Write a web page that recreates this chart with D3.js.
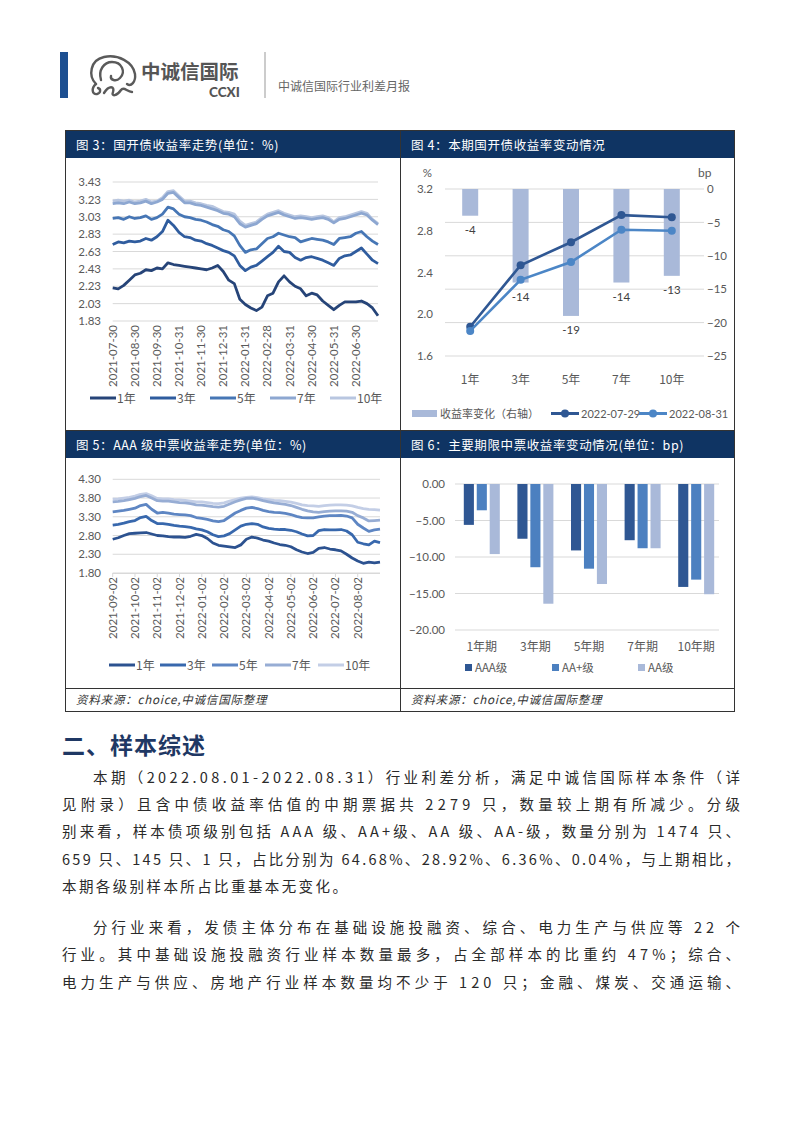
<!DOCTYPE html>
<html><head><meta charset="utf-8">
<script src="https://cdn.jsdelivr.net/npm/d3@7"></script>
<style>
body{margin:0;background:#fff;}
svg{display:block;font-family:Lato,"Noto Sans CJK SC",sans-serif;}
</style></head><body>
<svg id="page" width="802" height="1133"></svg>
<script>
// ---------------- DATA ----------------
const tenors = ["1年","3年","5年","7年","10年"];
// Fig 3: CDB bond yields (%), roughly weekly samples 2021-07-30 .. 2022-08-31
const cdbTickLabels = ["2021-07-30","2021-08-30","2021-09-30","2021-10-31","2021-11-30","2021-12-31","2022-01-31","2022-02-28","2022-03-31","2022-04-30","2022-05-31","2022-06-30"];
const cdbYTicks = [1.83,2.03,2.23,2.43,2.63,2.83,3.03,3.23,3.43];
const cdb1y = [2.21,2.20,2.24,2.30,2.36,2.38,2.42,2.41,2.44,2.43,2.50,2.48,2.47,2.46,2.45,2.44,2.43,2.42,2.44,2.47,2.40,2.30,2.26,2.08,2.02,1.98,1.95,1.99,2.12,2.15,2.28,2.35,2.28,2.23,2.20,2.12,2.15,2.13,2.06,2.01,1.96,2.01,2.05,2.05,2.05,2.06,2.03,1.98,1.89];
const cdb3y = [2.71,2.74,2.73,2.75,2.74,2.75,2.78,2.76,2.80,2.86,2.99,2.93,2.85,2.80,2.79,2.76,2.75,2.72,2.70,2.67,2.64,2.62,2.58,2.47,2.41,2.45,2.47,2.52,2.57,2.62,2.69,2.63,2.62,2.56,2.53,2.56,2.57,2.55,2.53,2.50,2.47,2.55,2.58,2.59,2.63,2.67,2.60,2.53,2.49];
const cdb5y = [3.01,3.02,3.00,3.03,3.01,3.02,3.04,3.00,3.02,3.06,3.14,3.12,3.06,3.03,3.02,3.00,2.99,2.97,2.94,2.92,2.88,2.86,2.81,2.70,2.62,2.65,2.66,2.72,2.78,2.80,2.84,2.82,2.80,2.79,2.74,2.76,2.78,2.77,2.76,2.74,2.71,2.78,2.79,2.80,2.84,2.86,2.80,2.75,2.71];
const cdb7y = [3.18,3.19,3.18,3.20,3.18,3.19,3.21,3.18,3.20,3.23,3.30,3.31,3.25,3.19,3.19,3.17,3.16,3.14,3.12,3.10,3.07,3.06,3.03,2.95,2.91,2.93,2.95,3.00,3.04,3.06,3.08,3.05,3.03,3.01,3.02,3.01,3.00,3.01,3.02,3.00,2.96,3.00,3.01,3.03,3.05,3.07,3.05,2.99,2.94];
const cdb10y = [3.21,3.22,3.21,3.22,3.20,3.21,3.23,3.20,3.21,3.25,3.32,3.33,3.27,3.21,3.21,3.19,3.18,3.16,3.15,3.12,3.09,3.08,3.06,2.98,2.93,2.95,2.97,3.02,3.06,3.08,3.10,3.07,3.05,3.03,3.04,3.03,3.02,3.03,3.04,3.02,2.97,3.02,3.03,3.05,3.07,3.09,3.07,3.00,2.95];

// Fig 4: yields on two dates (%) and change (bp)
const cdbChange = [-4,-14,-19,-14,-13];
const cdbYield0729 = [1.88,2.47,2.69,2.95,2.93];
const cdbYield0831 = [1.84,2.33,2.50,2.81,2.80];
const fig4LeftTicks = [1.6,2.0,2.4,2.8,3.2];
const fig4RightTicks = [-25,-20,-15,-10,-5,0];

// Fig 5: AAA MTN yields (%)
const mtnTickLabels = ["2021-09-02","2021-10-02","2021-11-02","2021-12-02","2022-01-02","2022-02-02","2022-03-02","2022-04-02","2022-05-02","2022-06-02","2022-07-02","2022-08-02"];
const mtnYTicks = [1.80,2.30,2.80,3.30,3.80,4.30];
const mtn1y = [2.70,2.74,2.80,2.85,2.86,2.87,2.88,2.84,2.80,2.79,2.77,2.76,2.76,2.75,2.78,2.83,2.80,2.72,2.60,2.54,2.52,2.50,2.48,2.55,2.70,2.76,2.73,2.68,2.65,2.60,2.56,2.54,2.50,2.42,2.36,2.32,2.35,2.46,2.48,2.44,2.42,2.39,2.30,2.20,2.12,2.06,2.09,2.07,2.09];
const mtn3y = [3.08,3.10,3.13,3.17,3.20,3.28,3.31,3.20,3.12,3.12,3.10,3.07,3.05,3.04,3.02,2.98,2.95,2.90,2.82,2.77,2.79,2.85,2.95,3.05,3.10,3.12,3.10,3.03,2.99,2.97,2.96,2.96,2.94,2.90,2.84,2.79,2.80,2.93,2.96,2.95,2.95,2.96,2.92,2.82,2.62,2.58,2.55,2.65,2.61];
const mtn5y = [3.43,3.45,3.47,3.50,3.53,3.60,3.63,3.50,3.40,3.42,3.40,3.37,3.36,3.35,3.33,3.28,3.26,3.23,3.19,3.17,3.20,3.30,3.40,3.47,3.53,3.55,3.52,3.47,3.44,3.42,3.41,3.39,3.36,3.31,3.28,3.27,3.27,3.30,3.32,3.33,3.33,3.34,3.32,3.27,3.10,3.00,2.91,2.95,2.97];
const mtn7y = [3.70,3.71,3.73,3.76,3.79,3.84,3.87,3.80,3.73,3.72,3.72,3.70,3.68,3.67,3.65,3.62,3.61,3.59,3.57,3.56,3.58,3.64,3.70,3.75,3.79,3.80,3.77,3.73,3.70,3.67,3.65,3.63,3.60,3.55,3.50,3.46,3.43,3.42,3.44,3.45,3.46,3.46,3.45,3.42,3.33,3.27,3.19,3.20,3.21];
const mtn10y = [3.77,3.78,3.80,3.82,3.85,3.90,3.92,3.86,3.79,3.78,3.78,3.76,3.75,3.74,3.72,3.70,3.70,3.68,3.66,3.65,3.67,3.72,3.76,3.80,3.82,3.83,3.81,3.78,3.76,3.74,3.73,3.71,3.69,3.66,3.62,3.60,3.59,3.58,3.60,3.61,3.62,3.62,3.61,3.59,3.55,3.52,3.50,3.49,3.48];

// Fig 6: MTN yield change by term (bp)
const mtnTerms = ["1年期","3年期","5年期","7年期","10年期"];
const mtnGrades = ["AAA级","AA+级","AA级"];
const mtnAAA = [-5.6,-7.5,-9.1,-7.7,-14.1];
const mtnAAplus = [-3.6,-11.4,-11.6,-8.8,-13.1];
const mtnAA = [-9.6,-16.4,-13.7,-8.8,-15.1];
const fig6Ticks = [-20,-15,-10,-5,0];

// text
const bodyLines = [
"本期（2022.08.01-2022.08.31）行业利差分析，满足中诚信国际样本条件（详",
"见附录）且含中债收益率估值的中期票据共 2279 只，数量较上期有所减少。分级",
"别来看，样本债项级别包括 AAA 级、AA+级、AA 级、AA-级，数量分别为 1474 只、",
"659 只、145 只、1 只，占比分别为 64.68%、28.92%、6.36%、0.04%，与上期相比，",
"本期各级别样本所占比重基本无变化。",
"分行业来看，发债主体分布在基础设施投融资、综合、电力生产与供应等 22 个",
"行业。其中基础设施投融资行业样本数量最多，占全部样本的比重约 47%；综合、",
"电力生产与供应、房地产行业样本数量均不少于 120 只；金融、煤炭、交通运输、"];

// ---------------- DRAW ----------------
const svg = d3.select("#page");
const NAVY = "#0f3463";
const GRID = "#d9d9d9";
const TICK = "#595959";
const CJK = '"Noto Sans CJK SC",sans-serif';
const ROW2 = 431;

// header
svg.append("rect").attr("x",60).attr("y",52).attr("width",8).attr("height",46).attr("fill","#1d4f91");
const logo = svg.append("g").attr("fill","none").attr("stroke","#5a5a5a").attr("stroke-width",2.4).attr("stroke-linecap","round");
logo.append("path").attr("d","M96 84 C88 76 90 60 104 57 C118 54 133 62 135 74 C136 82 131 87 127 84");
logo.append("path").attr("d","M101 80 C98 70 104 62 112 62 C122 62 126 72 120 78 C116 82 110 80 111 76");
logo.append("path").attr("d","M96 84 C91 88 92 95 97 94 C101 93 101 89 98 88");
logo.append("path").attr("d","M104 93 C109 85 115 86 113 92 C111 97 117 96 121 90 C124 86 127 92 132 92");
svg.append("text").attr("x",141).attr("y",79).attr("font-family",CJK).attr("font-size",19.5).attr("font-weight",700).attr("fill","#555").text("中诚信国际");
svg.append("text").attr("x",209).attr("y",97).attr("font-family","Lato,sans-serif").attr("font-size",13.5).attr("font-weight",900).attr("fill","#555").text("CCXI");
svg.append("line").attr("x1",265).attr("x2",265).attr("y1",52).attr("y2",98).attr("stroke","#999").attr("stroke-width",1);
svg.append("text").attr("x",278).attr("y",91).attr("font-family",CJK).attr("font-size",12).attr("fill","#666").text("中诚信国际行业利差月报");

// frame
svg.append("rect").attr("x",65.5).attr("y",130.5).attr("width",669).attr("height",581).attr("fill","none").attr("stroke","#333");
svg.append("line").attr("x1",400.5).attr("x2",400.5).attr("y1",130).attr("y2",712).attr("stroke","#333");
svg.append("line").attr("x1",65).attr("x2",735).attr("y1",ROW2-0.5).attr("y2",ROW2-0.5).attr("stroke","#333");
svg.append("line").attr("x1",65).attr("x2",735).attr("y1",688.5).attr("y2",688.5).attr("stroke","#333");
const titles = [
  {x:66,y:131,w:334,t:"图 3：国开债收益率走势(单位：%)"},
  {x:401,y:131,w:333,t:"图 4：本期国开债收益率变动情况"},
  {x:66,y:ROW2,w:334,t:"图 5：AAA 级中票收益率走势(单位：%)"},
  {x:401,y:ROW2,w:333,t:"图 6：主要期限中票收益率变动情况(单位：bp)"}];
titles.forEach(d=>{
  svg.append("rect").attr("x",d.x).attr("y",d.y).attr("width",d.w).attr("height",27).attr("fill",NAVY);
  svg.append("text").attr("x",d.x+10).attr("y",d.y+18.5).attr("font-family",CJK).attr("font-size",12.5).attr("fill","#fff").attr("letter-spacing",0.6).text(d.t);
});
[76,411].forEach(x=>{
  svg.append("text").attr("x",x).attr("y",704).attr("font-family",CJK).attr("font-size",11.5).attr("font-style","italic").attr("fill","#333").attr("letter-spacing",0.8).text("资料来源：choice,中诚信国际整理");
});

// generic line chart
function lineChart(opt){
  const g = svg.append("g");
  const n = opt.series[0].values.length;
  const x = d3.scaleLinear().domain([0,n-1]).range([opt.x0,opt.x1]);
  const y = d3.scaleLinear().domain(opt.yDomain).range([opt.y0,opt.y1]);
  g.selectAll(".grid").data(opt.yTicks).join("line")
    .attr("x1",opt.x0).attr("x2",opt.x1).attr("y1",d=>y(d)).attr("y2",d=>y(d))
    .attr("stroke",GRID).attr("stroke-width",1);
  const yAxis = d3.axisLeft(y).tickValues(opt.yTicks).tickFormat(d3.format(".2f")).tickSize(0).tickPadding(0);
  const ya = g.append("g").attr("transform",`translate(${opt.yLabelX},0)`).call(yAxis);
  ya.select(".domain").remove();
  ya.selectAll("text").attr("font-size",11.5).attr("fill",TICK).attr("font-family","Lato,sans-serif");
  const tickIdx = opt.tickLabels.map((d,i)=>i*opt.tickEvery);
  if(opt.axisLine){
    g.append("line").attr("x1",opt.x0).attr("x2",opt.x1).attr("y1",opt.y0+0.5).attr("y2",opt.y0+0.5).attr("stroke",GRID);
    g.selectAll(".xt").data(tickIdx).join("line").attr("x1",d=>x(d)).attr("x2",d=>x(d)).attr("y1",opt.y0).attr("y2",opt.y0+4).attr("stroke",GRID);
  }
  g.selectAll(".xl").data(opt.tickLabels).join("text")
    .attr("transform",(d,i)=>`translate(${x(tickIdx[i])},${opt.y0+4}) rotate(-90)`)
    .attr("text-anchor","end").attr("dy","0.35em")
    .attr("font-size",11.5).attr("fill",TICK).attr("font-family","Lato,sans-serif").text(d=>d);
  const line = d3.line().x((d,i)=>x(i)).y(d=>y(d)).curve(d3.curveLinear);
  opt.series.slice().reverse().forEach(s=>{
    g.append("path").attr("d",line(s.values)).attr("fill","none").attr("stroke",s.color).attr("stroke-width",2.8).attr("stroke-linejoin","round");
  });
  opt.series.forEach((s,i)=>{
    const lx = opt.legendX[i];
    g.append("line").attr("x1",lx).attr("x2",lx+26).attr("y1",opt.legendY).attr("y2",opt.legendY).attr("stroke",s.color).attr("stroke-width",3);
    g.append("text").attr("x",lx+27).attr("y",opt.legendY+4.5).attr("font-size",12).attr("fill",TICK).attr("font-family",CJK).text(s.name);
  });
}

const cdbColors = ["#264478","#2f5c9e","#4676b5","#8da7d1","#b8c6e0"];
lineChart({
  series:[cdb1y,cdb3y,cdb5y,cdb7y,cdb10y].map((v,i)=>({values:v,name:tenors[i],color:cdbColors[i]})),
  x0:112.7,x1:378,y0:321,y1:182,yDomain:[1.83,3.43],yTicks:cdbYTicks,yLabelX:101,
  tickLabels:cdbTickLabels,tickEvery:4,axisLine:false,
  legendX:[90,150,210,270,330],legendY:398
});

const mtnColors = ["#2c5290","#3868ad","#5e86c3","#97add4","#c3cee6"];
lineChart({
  series:[mtn1y,mtn3y,mtn5y,mtn7y,mtn10y].map((v,i)=>({values:v,name:tenors[i],color:mtnColors[i]})),
  x0:112.7,x1:380,y0:573,y1:479.3,yDomain:[1.80,4.30],yTicks:mtnYTicks,yLabelX:101,
  tickLabels:mtnTickLabels,tickEvery:4,axisLine:true,
  legendX:[109,160,212,265,318],legendY:665
});

// Fig 4
(function(){
  const g = svg.append("g");
  const x = d3.scaleBand().domain(tenors).range([445,697]);
  const yL = d3.scaleLinear().domain([1.6,3.2]).range([356,189]);
  const yR = d3.scaleLinear().domain([-25,0]).range([356,189]);
  g.selectAll(".grid").data(fig4RightTicks).join("line")
    .attr("x1",445).attr("x2",704).attr("y1",d=>yR(d)).attr("y2",d=>yR(d)).attr("stroke",GRID);
  const la = g.append("g").attr("transform","translate(433,0)").call(d3.axisLeft(yL).tickValues(fig4LeftTicks).tickFormat(d3.format(".1f")).tickSize(0).tickPadding(0));
  la.select(".domain").remove();
  la.selectAll("text").attr("font-size",11.5).attr("fill",TICK).attr("font-family","Lato,sans-serif");
  const ra = g.append("g").attr("transform","translate(707,0)").call(d3.axisRight(yR).tickValues(fig4RightTicks).tickFormat(d3.format("d")).tickSize(0).tickPadding(0));
  ra.select(".domain").remove();
  ra.selectAll("text").attr("font-size",11.5).attr("fill",TICK).attr("font-family","Lato,sans-serif");
  g.append("text").attr("x",432).attr("y",177).attr("text-anchor","end").attr("font-size",11.5).attr("fill",TICK).text("%");
  g.append("text").attr("x",698).attr("y",177).attr("font-size",12).attr("fill",TICK).text("bp");
  const bw = 16;
  g.selectAll(".bar").data(cdbChange).join("rect")
    .attr("x",(d,i)=>x(tenors[i])+x.bandwidth()/2-bw/2).attr("width",bw)
    .attr("y",yR(0)).attr("height",d=>yR(d)-yR(0)).attr("fill","#a9b9d9");
  g.selectAll(".bl").data(cdbChange).join("text")
    .attr("x",(d,i)=>x(tenors[i])+x.bandwidth()/2).attr("y",d=>yR(d)+18)
    .attr("text-anchor","middle").attr("font-size",11.5).attr("fill","#404040").attr("font-family","Lato,sans-serif").text(d=>d);
  g.selectAll(".xl").data(tenors).join("text")
    .attr("x",d=>x(d)+x.bandwidth()/2).attr("y",384).attr("text-anchor","middle")
    .attr("font-size",12).attr("fill",TICK).attr("font-family",CJK).text(d=>d);
  const lineSets = [{v:cdbYield0729,c:"#2f5793",n:"2022-07-29"},{v:cdbYield0831,c:"#4c86c6",n:"2022-08-31"}];
  const line = d3.line().x((d,i)=>x(tenors[i])+x.bandwidth()/2).y(d=>yL(d));
  lineSets.forEach(s=>{
    g.append("path").attr("d",line(s.v)).attr("fill","none").attr("stroke",s.c).attr("stroke-width",2.6);
    g.selectAll(null).data(s.v).join("circle").attr("cx",(d,i)=>x(tenors[i])+x.bandwidth()/2).attr("cy",d=>yL(d)).attr("r",4).attr("fill",s.c);
  });
  g.append("rect").attr("x",412).attr("y",410).attr("width",25).attr("height",7).attr("fill","#a9b9d9");
  g.append("text").attr("x",440).attr("y",418).attr("font-size",11).attr("fill",TICK).attr("font-family",CJK).text("收益率变化（右轴）");
  [551,639].forEach((lx,i)=>{
    const s = lineSets[i];
    g.append("line").attr("x1",lx).attr("x2",lx+28).attr("y1",413.5).attr("y2",413.5).attr("stroke",s.c).attr("stroke-width",3);
    g.append("circle").attr("cx",lx+14).attr("cy",413.5).attr("r",4).attr("fill",s.c);
    g.append("text").attr("x",lx+30).attr("y",418).attr("font-size",11).attr("fill",TICK).attr("font-family","Lato,sans-serif").text(s.n);
  });
})();

// Fig 6
(function(){
  const g = svg.append("g");
  const x = d3.scaleBand().domain(mtnTerms).range([455,723]);
  const y = d3.scaleLinear().domain([-20,0]).range([630,484]);
  g.selectAll(".grid").data(fig6Ticks).join("line")
    .attr("x1",455).attr("x2",719).attr("y1",d=>y(d)).attr("y2",d=>y(d)).attr("stroke",GRID);
  const ya = g.append("g").attr("transform","translate(445,0)").call(d3.axisLeft(y).tickValues(fig6Ticks).tickFormat(d3.format(".2f")).tickSize(0).tickPadding(0));
  ya.select(".domain").remove();
  ya.selectAll("text").attr("font-size",11.5).attr("fill",TICK).attr("font-family","Lato,sans-serif");
  const grades = [mtnAAA,mtnAAplus,mtnAA];
  const colors = ["#2f5793","#4c80c0","#a9b9d9"];
  const sub = d3.scaleBand().domain([0,1,2]).range([0,36]).paddingInner(0.22);
  grades.forEach((vals,k)=>{
    g.selectAll(null).data(vals).join("rect")
      .attr("x",(d,i)=>x(mtnTerms[i])+x.bandwidth()/2-18+sub(k)).attr("width",sub.bandwidth())
      .attr("y",y(0)).attr("height",d=>y(d)-y(0)).attr("fill",colors[k]);
  });
  g.selectAll(".xl").data(mtnTerms).join("text")
    .attr("x",d=>x(d)+x.bandwidth()/2).attr("y",651).attr("text-anchor","middle")
    .attr("font-size",12).attr("fill",TICK).attr("font-family",CJK).text(d=>d);
  [465,552,638].forEach((lx,k)=>{
    g.append("rect").attr("x",lx).attr("y",664).attr("width",7).attr("height",7).attr("fill",colors[k]);
    g.append("text").attr("x",lx+10).attr("y",672).attr("font-size",11.5).attr("fill",TICK).attr("font-family",CJK).text(mtnGrades[k]);
  });
})();

// Section text
svg.append("text").attr("x",62).attr("y",754).attr("font-family",CJK).attr("font-size",23).attr("font-weight",700).attr("fill","#1f3864").attr("letter-spacing",1).text("二、样本综述");
const lineY = [783,810,837,865,892,933,960,988];
const indent = [true,false,false,false,false,true,false,false];
const justify = [true,true,true,true,false,true,true,true];
bodyLines.forEach((t,i)=>{
  const x0 = indent[i] ? 93 : 62;
  const tx = svg.append("text").attr("x",x0).attr("y",lineY[i]).attr("font-family",CJK).attr("font-size",14.5).attr("fill","#2a2a2a").text(t);
  if(justify[i]) tx.attr("textLength",740-x0).attr("lengthAdjust","spacing");
  else tx.attr("letter-spacing",2.4);
});
</script>
</body></html>
